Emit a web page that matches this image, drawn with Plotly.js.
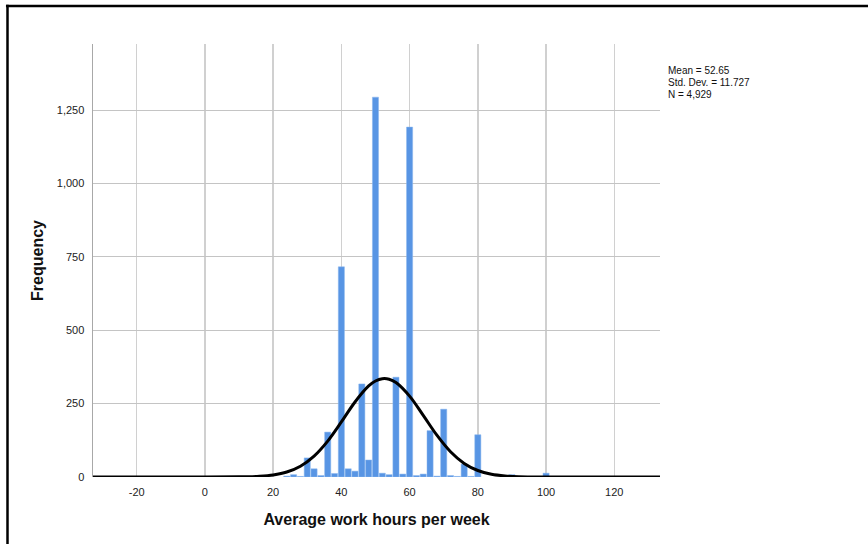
<!DOCTYPE html>
<html>
<head>
<meta charset="utf-8">
<script src="https://cdn.plot.ly/plotly-3.0.1.min.js"></script>
<style>html,body{margin:0;padding:0;background:#fff;}#chart{width:868px;height:544px;}</style>
</head>
<body>
<div id="chart"></div>
<script>
// Histogram bins (centre of each 2-hour bin) and counts
const binCenters = [24, 26, 28, 30, 32, 34, 36, 38, 40, 42, 44, 46, 48, 50, 52, 54, 56, 58, 60, 62, 64, 66, 68, 70, 72, 74, 76, 78, 80, 90, 100];
const binCounts  = [3, 8, 2, 65, 28, 5, 153, 12, 716, 28, 20, 317, 58, 1294, 13, 8, 340, 10, 1192, 5, 10, 158, 3, 231, 5, 2, 44, 2, 144, 8, 13];

// Fitted normal curve
const curveX = [-33, 0, 10, 12, 16, 20, 24, 28, 32, 36, 40, 44, 48, 50, 52, 54, 56, 60, 64, 68, 72, 76, 80, 84, 88, 92, 100, 110, 134];
const curveY = [0, 0, 0.45, 0.8, 2.5, 6.9, 16.9, 36.8, 71.2, 122.4, 187.5, 255.5, 310.1, 326.9, 334.9, 333.2, 322.0, 275.6, 210.0, 142.4, 86.0, 46.2, 22.1, 9.4, 3.6, 1.2, 0.1, 0, 0];

// Axis ticks
const xTicks = [-20, 0, 20, 40, 60, 80, 100, 120];
const yTicks = [0, 250, 500, 750, 1000, 1250];

const statsText = ['Mean = 52.65', 'Std. Dev. = 11.727', 'N = 4,929'];

const FONT = 'Liberation Sans, Arial, sans-serif';

const traces = [
  {
    type: 'bar', x: binCenters, y: binCounts, width: 1.8,
    marker: {color: '#5895e4', line: {color: '#8db8ee', width: 0.5}},
    hoverinfo: 'x+y', showlegend: false
  },
  {
    type: 'scatter', mode: 'lines', x: curveX, y: curveY,
    line: {color: '#000000', width: 3, shape: 'spline', smoothing: 1},
    hoverinfo: 'skip', showlegend: false, cliponaxis: true
  }
];

const statsY = [0.9395, 0.912, 0.8845];

const layout = {
  width: 868, height: 544,
  margin: {l: 93, r: 208, t: 44, b: 67, pad: 0},
  paper_bgcolor: '#ffffff', plot_bgcolor: '#ffffff',
  separators: '.,',
  font: {family: FONT, size: 11, color: '#222222'},
  showlegend: false,
  xaxis: {
    range: [-32.8, 133.4], tickvals: xTicks, ticktext: xTicks.map(String),
    showgrid: true, gridcolor: '#d0d0d0', gridwidth: 1.5,
    zeroline: false, showline: false, ticks: 'outside', ticklen: 5, tickcolor: 'rgba(0,0,0,0)',
    tickfont: {family: FONT, size: 11, color: '#222222'},
    title: {text: 'Average work hours per week', font: {family: FONT, size: 16, color: '#111111', weight: 'bold'}, standoff: 16}
  },
  yaxis: {
    range: [0, 1475], tickvals: yTicks, ticktext: yTicks.map(v => v.toLocaleString('en-US')),
    showgrid: true, gridcolor: '#c4c4c4', gridwidth: 1,
    zeroline: false, showline: true, linecolor: '#a8a8a8', linewidth: 1.5,
    ticks: 'outside', ticklen: 5, tickcolor: 'rgba(0,0,0,0)',
    tickfont: {family: FONT, size: 11, color: '#222222'},
    title: {text: 'Frequency', font: {family: FONT, size: 16, color: '#111111', weight: 'bold'}, standoff: 9}
  },
  bargap: 0,
  annotations: statsText.map((t, i) => ({
    xref: 'paper', yref: 'paper', x: 1.0115, y: statsY[i], xanchor: 'left', yanchor: 'middle',
    align: 'left', showarrow: false, text: t, borderpad: 0,
    font: {family: FONT, size: 10, color: '#111111'}
  })),
  shapes: [
    {type: 'line', xref: 'paper', yref: 'paper', x0: -0.1535, x1: 1.6, y0: 1.0878, y1: 1.0878, line: {color: '#000', width: 2.5}},
    {type: 'line', xref: 'paper', yref: 'paper', x0: -0.1508, x1: -0.1508, y0: 1.0905, y1: -0.5, line: {color: '#000', width: 2.5}}
  ]
};

Plotly.newPlot('chart', traces, layout, {staticPlot: true, displayModeBar: false});
</script>
</body>
</html>
